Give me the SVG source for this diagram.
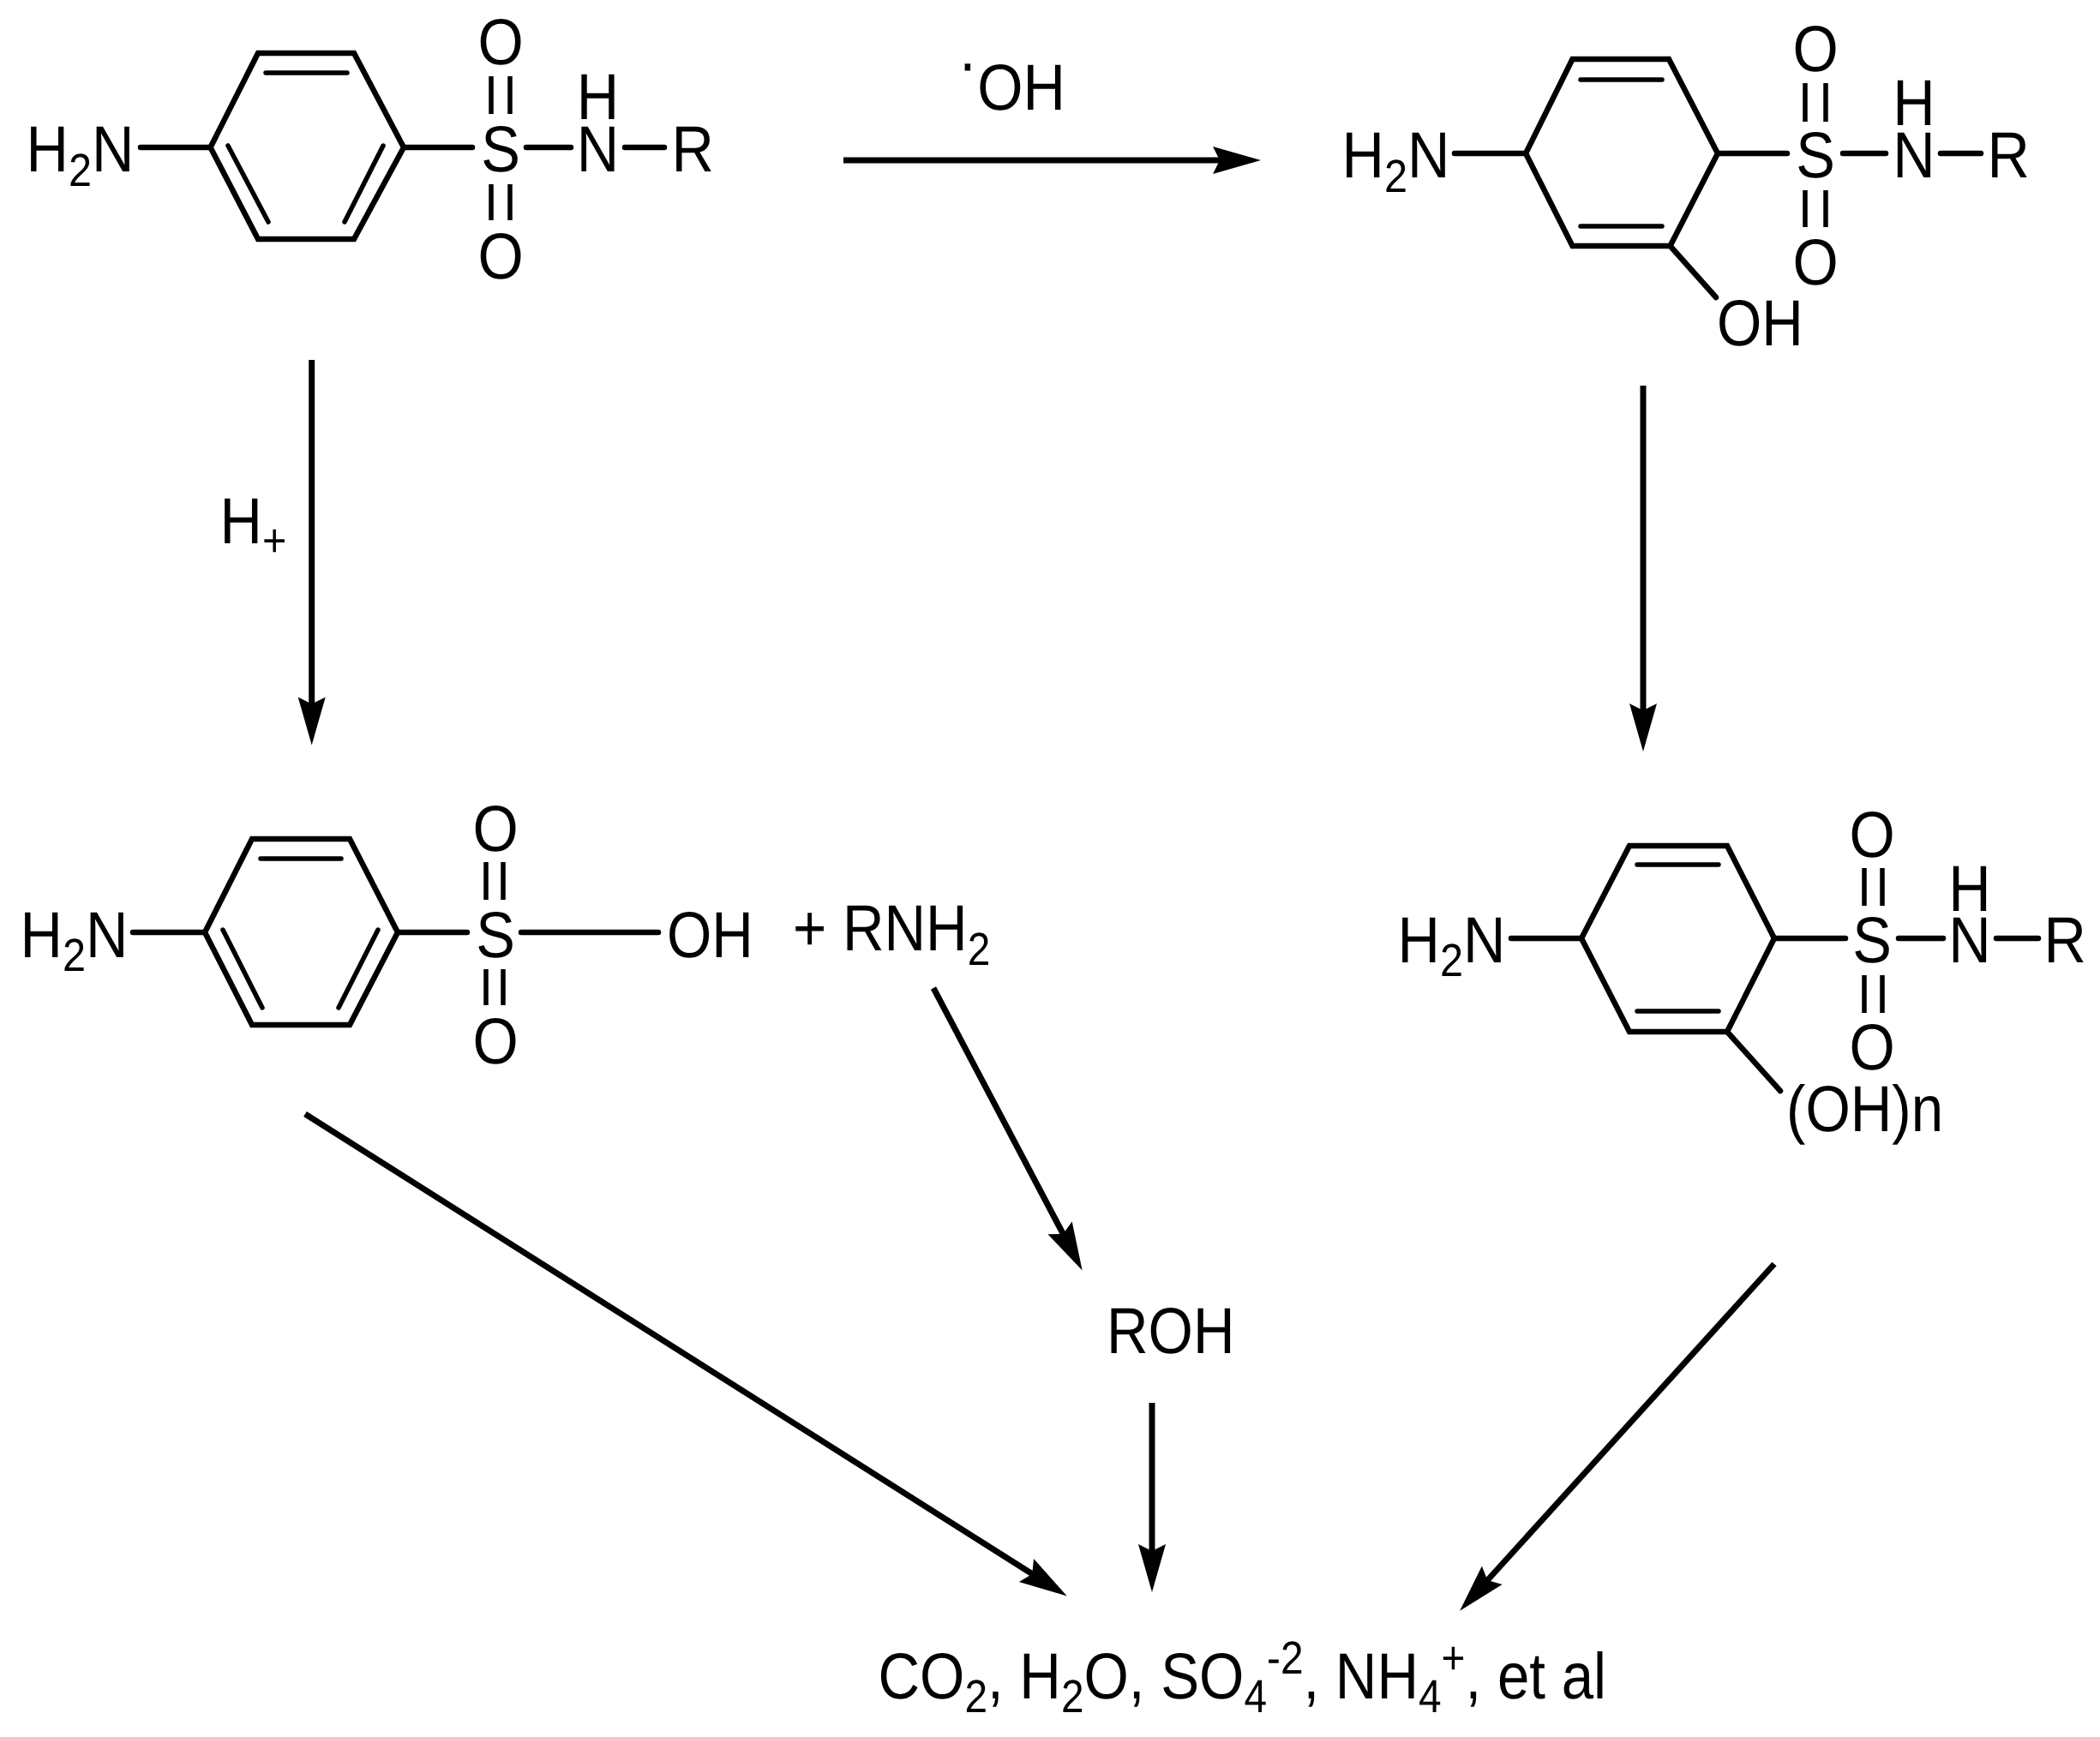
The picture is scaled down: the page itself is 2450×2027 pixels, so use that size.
<svg xmlns="http://www.w3.org/2000/svg" width="2450" height="2027" viewBox="0 0 2450 2027">
<style>
text{font-family:"Liberation Sans",Arial,sans-serif;font-size:76px;fill:#000;text-rendering:geometricPrecision}
.m{text-anchor:middle}
.s{font-size:54px}
.ring{fill:none;stroke:#000;stroke-width:6.5;stroke-linejoin:miter}
.b{fill:none;stroke:#000;stroke-width:6.5;stroke-linecap:round}
.i{fill:none;stroke:#000;stroke-width:5.5;stroke-linecap:round}
.d{fill:none;stroke:#000;stroke-width:5.5;stroke-linecap:butt}
.a{fill:none;stroke:#000;stroke-width:7;stroke-linecap:butt;marker-end:url(#h)}
</style>
<defs>
<marker id="h" markerUnits="userSpaceOnUse" orient="auto" refX="0" refY="0" markerWidth="80" markerHeight="40" viewBox="-20 -20 80 40" overflow="visible">
<path d="M40 0L-16 -16L-8 0L-16 16Z" fill="#000"/>
</marker>
</defs>

<g id="node-sulfonamide">
<path class="ring" d="M245.5 172L301 62H413L471 172L413 279H301Z"/>
<path class="i" d="M310 85H405M266 170L313 259M447 170L402 259"/>
<path class="b" d="M164 172H245M471 172H551M614 172H666M729 172H775"/>
<path class="d" d="M573 89V133M595 89V133M573 215V257M595 215V257"/>
<text transform="matrix(.9 0 0 1 30.5 200)">H<tspan class="s" dy="17">2</tspan><tspan dy="-17">N</tspan></text>
<text class="m" transform="matrix(.9 0 0 1 584 75)">O</text>
<text class="m" transform="matrix(.9 0 0 1 584 200)">S</text>
<text class="m" transform="matrix(.9 0 0 1 584 325)">O</text>
<text class="m" transform="matrix(.9 0 0 1 697.5 139)">H</text>
<text class="m" transform="matrix(.9 0 0 1 697.5 200)">N</text>
<text transform="matrix(.9 0 0 1 783.5 200)">R</text>
</g>

<g id="node-hydroxylated">
<path class="ring" d="M1780 179L1834.5 69H1947L2004 179L1948.5 287H1834.5Z"/>
<path class="i" d="M1844 93H1939M1844 264H1939"/>
<path class="b" d="M1697 179H1779M2004 179H2085M2150 179H2200M2264 179H2311M1948.5 287L2002 347"/>
<path class="d" d="M2106 97V142M2130 97V142M2106 222V265M2130 222V265"/>
<text transform="matrix(.9 0 0 1 1565.5 207)">H<tspan class="s" dy="17">2</tspan><tspan dy="-17">N</tspan></text>
<text class="m" transform="matrix(.9 0 0 1 2118 83)">O</text>
<text class="m" transform="matrix(.9 0 0 1 2118 207)">S</text>
<text class="m" transform="matrix(.9 0 0 1 2118 332)">O</text>
<text class="m" transform="matrix(.9 0 0 1 2233 146)">H</text>
<text class="m" transform="matrix(.9 0 0 1 2233 207)">N</text>
<text transform="matrix(.9 0 0 1 2318.5 207)">R</text>
<text transform="matrix(.885 0 0 1 2003 403)">OH</text>
</g>

<g id="node-sulfonic-acid">
<path class="ring" d="M239 1088L294 979H408L464 1088L408 1196H294Z"/>
<path class="i" d="M304 1002H398M260 1085L306 1176M441 1085L395 1176"/>
<path class="b" d="M155 1088H237M464 1088H545M608 1088H768"/>
<path class="d" d="M567 1006V1050M587 1006V1050M567 1131V1173M587 1131V1173"/>
<text transform="matrix(.9 0 0 1 23.5 1117)">H<tspan class="s" dy="16">2</tspan><tspan dy="-16">N</tspan></text>
<text class="m" transform="matrix(.9 0 0 1 578 993)">O</text>
<text class="m" transform="matrix(.9 0 0 1 578 1117)">S</text>
<text class="m" transform="matrix(.9 0 0 1 578 1241)">O</text>
<text transform="matrix(.885 0 0 1 778 1117)">OH</text>
</g>

<g id="node-rnh2">
<text transform="matrix(.885 0 0 1 925 1109)">+ RNH<tspan class="s" dy="17">2</tspan></text>
</g>

<g id="node-polyhydroxylated">
<path class="ring" d="M1845 1095L1901 987H2015L2070 1095L2015 1204H1901Z"/>
<path class="i" d="M1910 1009H2005M1910 1180H2005"/>
<path class="b" d="M1763 1095H1844M2070 1095H2153M2215 1095H2267M2329 1095H2378M2015 1204L2077 1273"/>
<path class="d" d="M2175 1013V1057M2196 1013V1057M2175 1138V1182M2196 1138V1182"/>
<text transform="matrix(.9 0 0 1 1630.5 1123)">H<tspan class="s" dy="16">2</tspan><tspan dy="-16">N</tspan></text>
<text class="m" transform="matrix(.9 0 0 1 2184 1000)">O</text>
<text class="m" transform="matrix(.9 0 0 1 2184 1123)">S</text>
<text class="m" transform="matrix(.9 0 0 1 2184 1248)">O</text>
<text class="m" transform="matrix(.9 0 0 1 2298 1063)">H</text>
<text class="m" transform="matrix(.9 0 0 1 2298 1123)">N</text>
<text transform="matrix(.9 0 0 1 2384.5 1123)">R</text>
<text transform="matrix(.885 0 0 1 2084 1320)">(OH)n</text>
</g>

<g id="node-roh">
<text transform="matrix(.885 0 0 1 1291 1579)">ROH</text>
</g>

<g id="node-products">
<text transform="matrix(.885 0 0 1 1024.5 1982)">CO<tspan class="s" dy="16">2</tspan><tspan dy="-16">, H</tspan><tspan class="s" dy="16">2</tspan><tspan dy="-16">O, SO</tspan><tspan class="s" dy="16">4</tspan><tspan class="s" dy="-45">-2</tspan><tspan dy="29">, NH</tspan><tspan class="s" dy="16">4</tspan><tspan class="s" dy="-45">+</tspan><tspan dy="29">, et al</tspan></text>
</g>

<g id="label-oh">
<text transform="matrix(.9 0 0 1 1117.5 128)"><tspan dy="-29">·</tspan><tspan dy="29">OH</tspan></text>
</g>
<g id="label-h-plus">
<text transform="matrix(.9 0 0 1 256.5 634)">H<tspan class="s" dy="15">+</tspan></text>
</g>

<g id="connectors">
<path class="a" d="M984 187H1431"/>
<path class="a" d="M363.7 420V829.5"/>
<path class="a" d="M1917 450V837"/>
<path class="a" d="M1089 1153L1244 1447"/>
<path class="a" d="M356 1300L1211 1841"/>
<path class="a" d="M1344 1637V1818"/>
<path class="a" d="M2070 1475L1730 1850"/>
</g>
</svg>
